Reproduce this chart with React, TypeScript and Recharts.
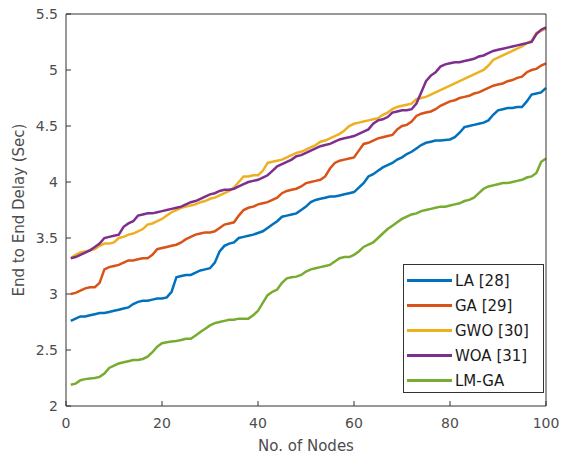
import { LineChart, Line, XAxis, YAxis, Legend, Label } from "recharts";

const nodes = Array.from({ length: 100 }, (_, i) => i + 1);

const la = [
  2.76, 2.78, 2.8, 2.8, 2.81, 2.82, 2.83, 2.83, 2.84, 2.85,
  2.86, 2.87, 2.88, 2.91, 2.93, 2.94, 2.94, 2.95, 2.96, 2.96,
  2.97, 3.02, 3.15, 3.16, 3.17, 3.17, 3.19, 3.21, 3.22, 3.23,
  3.28, 3.38, 3.43, 3.45, 3.46, 3.5, 3.51, 3.52, 3.53, 3.545,
  3.56, 3.59, 3.62, 3.65, 3.69, 3.7, 3.71, 3.72, 3.75, 3.78,
  3.82, 3.84, 3.85, 3.86, 3.87, 3.87, 3.88, 3.89, 3.9, 3.91,
  3.95, 3.99, 4.05, 4.07, 4.1, 4.13, 4.15, 4.17, 4.2, 4.22,
  4.25, 4.27, 4.3, 4.33, 4.35, 4.36, 4.37, 4.37, 4.375, 4.38,
  4.4, 4.44, 4.49, 4.5, 4.51, 4.52, 4.53, 4.55, 4.6, 4.64,
  4.65, 4.66, 4.66, 4.67, 4.67, 4.72, 4.78, 4.79, 4.8, 4.84,
];

const ga = [
  3.0, 3.01, 3.03, 3.05, 3.06, 3.06, 3.1, 3.22, 3.24, 3.25,
  3.26, 3.28, 3.3, 3.3, 3.31, 3.32, 3.32, 3.35, 3.4, 3.41,
  3.42, 3.43, 3.44, 3.46, 3.49, 3.51, 3.53, 3.54, 3.55, 3.55,
  3.56, 3.59, 3.62, 3.63, 3.64, 3.7, 3.75, 3.77, 3.78, 3.8,
  3.81, 3.82, 3.84, 3.86, 3.9, 3.92, 3.93, 3.94, 3.96, 3.99,
  4.0, 4.01, 4.02, 4.05, 4.12, 4.17, 4.19, 4.2, 4.21, 4.22,
  4.28, 4.34, 4.35, 4.37, 4.39, 4.4, 4.41, 4.42, 4.47, 4.5,
  4.51, 4.54, 4.59, 4.61, 4.62, 4.63, 4.65, 4.68, 4.7, 4.72,
  4.73, 4.75, 4.76, 4.77, 4.79, 4.8, 4.82, 4.84, 4.86, 4.87,
  4.88, 4.9, 4.91, 4.93, 4.94, 4.98, 5.0, 5.01, 5.04, 5.06,
];

const gwo = [
  3.32, 3.35, 3.37, 3.38, 3.39, 3.4, 3.43, 3.45, 3.45, 3.46,
  3.5, 3.51, 3.53, 3.54, 3.56, 3.58, 3.62, 3.63, 3.65, 3.67,
  3.7, 3.73, 3.75, 3.77, 3.78, 3.79, 3.8, 3.82, 3.83, 3.85,
  3.86, 3.88, 3.9, 3.92, 3.95, 4.0, 4.05, 4.05, 4.06, 4.06,
  4.1, 4.17, 4.18, 4.19, 4.2, 4.22, 4.24, 4.26, 4.27, 4.29,
  4.31, 4.33, 4.36, 4.37, 4.39, 4.41, 4.43, 4.46, 4.5, 4.52,
  4.53, 4.54, 4.55, 4.56, 4.57, 4.6, 4.62, 4.65, 4.67, 4.68,
  4.69, 4.7, 4.74, 4.75, 4.76, 4.78, 4.8, 4.82, 4.84, 4.86,
  4.88, 4.9, 4.92, 4.94, 4.96, 4.98, 5.0, 5.04, 5.09, 5.11,
  5.13, 5.15, 5.17, 5.19, 5.21, 5.24, 5.26, 5.33, 5.35, 5.37,
];

const woa = [
  3.32, 3.33, 3.35, 3.37, 3.39, 3.42, 3.45, 3.5, 3.51, 3.52,
  3.53, 3.6, 3.63, 3.65, 3.7, 3.71, 3.72, 3.72, 3.73, 3.74,
  3.75, 3.76, 3.77, 3.78, 3.8, 3.82, 3.83, 3.85, 3.87, 3.89,
  3.9, 3.92, 3.93, 3.93, 3.94, 3.96, 3.98, 4.0, 4.01, 4.02,
  4.04, 4.06, 4.1, 4.14, 4.16, 4.18, 4.2, 4.23, 4.24, 4.26,
  4.28, 4.3, 4.32, 4.33, 4.34, 4.36, 4.38, 4.39, 4.4, 4.41,
  4.43, 4.45, 4.47, 4.52, 4.55, 4.56, 4.58, 4.62, 4.63, 4.64,
  4.64, 4.65, 4.7, 4.8, 4.9, 4.95, 4.98, 5.03, 5.05, 5.06,
  5.07, 5.07, 5.08, 5.09, 5.1, 5.12, 5.13, 5.15, 5.17, 5.18,
  5.19, 5.2, 5.21, 5.22, 5.23, 5.24, 5.25, 5.32, 5.36, 5.38,
];

const lmga = [
  2.19, 2.2, 2.23, 2.24, 2.245, 2.25, 2.26, 2.29, 2.34, 2.36,
  2.38, 2.39, 2.4, 2.41, 2.41, 2.42, 2.44, 2.48, 2.53, 2.56,
  2.57, 2.575, 2.58, 2.59, 2.6, 2.6, 2.63, 2.66, 2.69, 2.72,
  2.74, 2.75, 2.76, 2.77, 2.77, 2.78, 2.78, 2.78, 2.81, 2.85,
  2.92, 2.99, 3.02, 3.04, 3.1, 3.14, 3.15, 3.155, 3.17, 3.2,
  3.22, 3.23, 3.24, 3.25, 3.26, 3.29, 3.32, 3.33, 3.33, 3.35,
  3.38, 3.42, 3.44, 3.46, 3.5, 3.54, 3.58, 3.61, 3.64, 3.67,
  3.69, 3.71, 3.72, 3.74, 3.75, 3.76, 3.77, 3.78, 3.78, 3.79,
  3.8, 3.81, 3.83, 3.84, 3.86, 3.9, 3.94, 3.96, 3.97, 3.98,
  3.99, 3.99, 4.0, 4.01, 4.02, 4.04, 4.05, 4.08, 4.18, 4.21,
];

const xTicks = [0, 20, 40, 60, 80, 100];
const yTicks = [2, 2.5, 3, 3.5, 4, 4.5, 5, 5.5];

const series = [
  { key: "la", name: "LA [28]", color: "#0072BD", values: la },
  { key: "ga", name: "GA [29]", color: "#D95319", values: ga },
  { key: "gwo", name: "GWO [30]", color: "#EDB120", values: gwo },
  { key: "woa", name: "WOA [31]", color: "#7E2F8E", values: woa },
  { key: "lmga", name: "LM-GA", color: "#77AC30", values: lmga },
];

const data = nodes.map((n, i) => {
  const row: Record<string, number> = { node: n };
  series.forEach((s) => {
    row[s.key] = s.values[i];
  });
  return row;
});

const FONT = "'DejaVu Sans', sans-serif";
const AXIS = "#333333";
const tickStyle = { fontSize: 14, fill: "#4d4d4d", fontFamily: FONT };

const renderLegend = () => (
  <div
    style={{
      width: 141,
      height: 129,
      boxSizing: "border-box",
      border: `1px solid ${AXIS}`,
      background: "#fff",
      paddingTop: 3,
      fontFamily: FONT,
      fontSize: 15,
      color: "#1a1a1a",
    }}
  >
    {series.map((s) => (
      <div key={s.key} style={{ display: "flex", alignItems: "center", height: 25 }}>
        <div style={{ width: 45, height: 3, background: s.color, marginLeft: 3, marginRight: 3 }} />
        <span style={{ whiteSpace: "nowrap" }}>{s.name}</span>
      </div>
    ))}
  </div>
);

export default function App() {
  return (
    <div style={{ position: "absolute", left: 0, top: 0, width: 565, height: 457, background: "#fff" }}>
      <LineChart width={565} height={457} data={data} margin={{ top: 13, right: 18, left: 0, bottom: 0 }}>
        <XAxis
          dataKey="node"
          type="number"
          domain={[0, 100]}
          ticks={xTicks}
          height={51}
          stroke={AXIS}
          tickSize={-5}
          tickMargin={17}
          tick={tickStyle}
        >
          <Label
            value="No. of Nodes"
            position="insideBottom"
            offset={6}
            style={{ fontSize: 15, fill: "#4d4d4d", fontFamily: FONT }}
          />
        </XAxis>
        <XAxis
          xAxisId="top"
          orientation="top"
          type="number"
          domain={[0, 100]}
          ticks={xTicks}
          height={1}
          stroke={AXIS}
          tickSize={-5}
          tick={false}
        />
        <YAxis
          type="number"
          domain={[2, 5.5]}
          ticks={yTicks}
          width={66}
          stroke={AXIS}
          tickSize={-5}
          tickMargin={13}
          tick={tickStyle}
        >
          <Label
            value="End to End Delay (Sec)"
            angle={-90}
            position="insideLeft"
            offset={19}
            style={{ fontSize: 15, fill: "#4d4d4d", fontFamily: FONT, textAnchor: "middle" }}
          />
        </YAxis>
        <YAxis
          yAxisId="right"
          orientation="right"
          type="number"
          domain={[2, 5.5]}
          ticks={yTicks}
          width={1}
          stroke={AXIS}
          tickSize={-5}
          tick={false}
        />
        <Legend
          layout="vertical"
          align="center"
          verticalAlign="middle"
          content={renderLegend}
          wrapperStyle={{ left: 403, top: 264, width: 141, height: 129 }}
        />
        {series.map((s) => (
          <Line
            key={s.key}
            dataKey={s.key}
            name={s.name}
            type="linear"
            stroke={s.color}
            strokeWidth={2.5}
            dot={false}
            activeDot={false}
            isAnimationActive={false}
          />
        ))}
      </LineChart>
    </div>
  );
}
